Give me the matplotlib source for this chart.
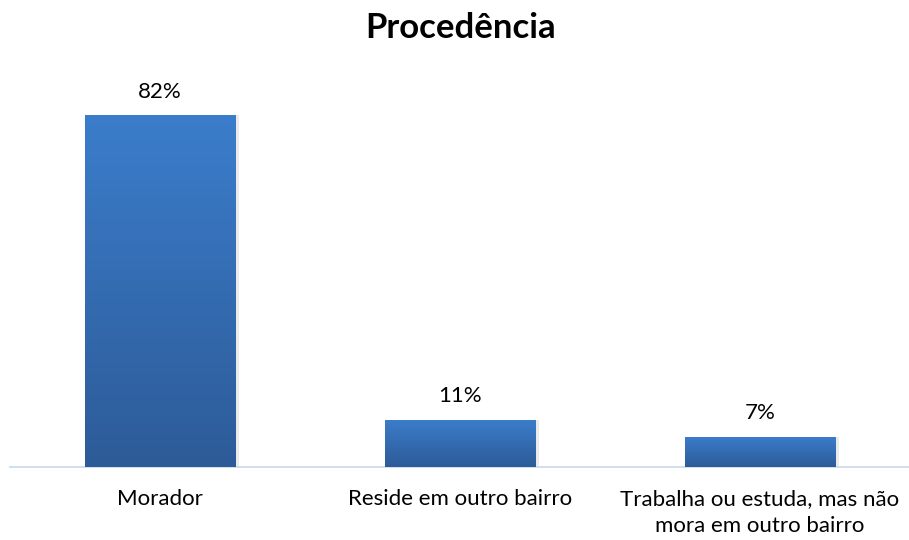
import matplotlib.pyplot as plt
import numpy as np
from matplotlib.colors import LinearSegmentedColormap

categories = ['Morador', 'Reside em outro bairro', 'Trabalha ou estuda, mas não\nmora em outro bairro']
values = [82, 11, 7]
labels = ['82%', '11%', '7%']

plt.rcParams['font.family'] = ['Lato', 'DejaVu Sans']

fig = plt.figure(figsize=(9.09, 5.4), dpi=100)
ax = fig.add_axes([10 / 909, 73 / 540, 900 / 909, 386 / 540])

x = np.arange(len(values))
width = 0.503
cmap = LinearSegmentedColormap.from_list('bar', ['#2D5B98', '#3B7DCB'])
grad = np.linspace(0, 1, 256).reshape(-1, 1)

bars = ax.bar(x, values, width, color='none', edgecolor='none', zorder=3)
for b, lab in zip(bars, labels):
    x0, h = b.get_x(), b.get_height()
    # soft shadow
    ax.bar(x0 + width / 2 + 0.006, h, width + 0.012, color='#000000', alpha=0.08, zorder=2)
    im = ax.imshow(grad, cmap=cmap, origin='lower', aspect='auto',
                   extent=[x0, x0 + width, 0, h], zorder=3)
    im.set_clip_path(b)
    ax.text(x0 + width / 2, h + 3.2, lab, ha='center', va='bottom', fontsize=16, color='#000000')

ax.set_xlim(-0.5, 2.5)
ax.set_ylim(0, 90)
ax.set_yticks([])
ax.set_xticks(x)
ax.set_xticklabels(categories, fontsize=16, linespacing=1.45)
ax.tick_params(axis='x', length=0, pad=16)
for s in ['top', 'right', 'left']:
    ax.spines[s].set_visible(False)
ax.spines['bottom'].set_color('#CCDBEE')
ax.spines['bottom'].set_linewidth(1.3)

fig.text(461 / 909, 1 - 28 / 540, 'Procedência', fontsize=25, fontweight='bold', ha='center', va='center')

fig.savefig('out.png', dpi=100)
